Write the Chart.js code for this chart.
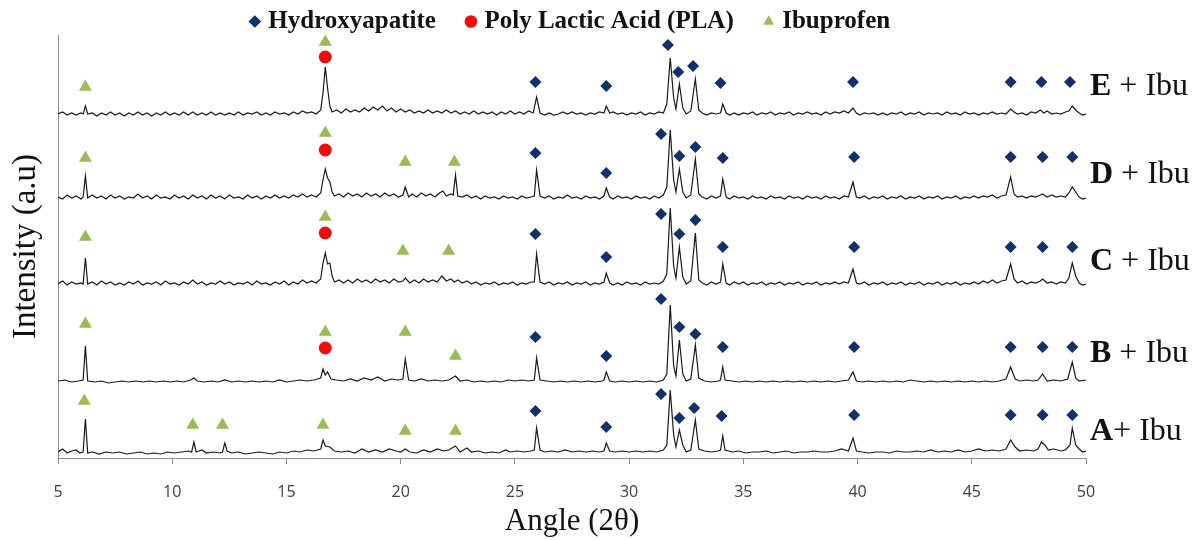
<!DOCTYPE html>
<html lang="en">
<head>
  <meta charset="UTF-8" />
  <title>XRD – Hydroxyapatite / PLA / Ibuprofen</title>
  <script src="https://cdn.jsdelivr.net/npm/chart.js"></script>
  <style>
    html, body { margin: 0; padding: 0; background: #fff; }
  </style>
</head>
<body>
  <canvas id="xrd" width="1200" height="540"></canvas>

  <script>
    // sample names and the text after them (A has no space before +)
    const samples = ['A', 'B', 'C', 'D', 'E'];
    const suffixes = ['+ Ibu', ' + Ibu', ' + Ibu', ' + Ibu', ' + Ibu'];
    const angleTicks = [5, 10, 15, 20, 25, 30, 35, 40, 45, 50];

    // diffractograms: [angle 2θ, intensity above own baseline]
    const traceA = [[5.0,3],[5.2,6],[5.4,2],[5.6,4],[5.8,5],[5.95,2],[6.1,3],[6.2,36],[6.3,2],[6.5,3],[6.8,1],[7.1,3],[7.4,2],[7.7,3],[8.0,1],[8.3,2],[8.6,3],[8.9,1],[9.2,2],[9.5,1],[9.8,3],[10.1,2],[10.4,3],[10.7,4],[10.85,3],[10.95,13],[11.05,3],[11.3,5],[11.5,2],[11.8,3],[12.1,2],[12.2,3],[12.3,12],[12.4,4],[12.6,2],[12.9,3],[13.2,1],[13.5,2],[13.8,3],[14.1,2],[14.4,1],[14.7,3],[15.0,2],[15.3,4],[15.6,3],[15.9,5],[16.2,4],[16.5,6],[16.6,15],[16.7,9],[16.9,8],[17.1,4],[17.4,3],[17.7,4],[18.0,2],[18.3,6],[18.6,3],[18.9,5],[19.2,3],[19.5,6],[19.8,4],[20.0,3],[20.2,6],[20.4,3],[20.7,2],[21.0,5],[21.3,3],[21.6,6],[21.9,4],[22.1,5],[22.4,9],[22.6,3],[22.9,7],[23.1,3],[23.4,4],[23.7,2],[24.0,3],[24.3,2],[24.6,5],[24.8,3],[25.1,4],[25.4,3],[25.7,4],[25.85,5],[25.95,27],[26.1,5],[26.3,3],[26.6,4],[26.9,3],[27.2,5],[27.5,3],[27.8,4],[28.1,3],[28.4,4],[28.7,3],[28.9,4],[29.0,12],[29.15,4],[29.4,3],[29.7,4],[30.0,3],[30.3,4],[30.6,3],[30.9,4],[31.2,3],[31.5,5],[31.65,10],[31.8,65],[31.95,20],[32.05,8],[32.2,25],[32.35,10],[32.5,3],[32.7,5],[32.9,35],[33.05,6],[33.3,4],[33.6,3],[33.9,4],[34.0,5],[34.1,19],[34.2,5],[34.5,3],[34.8,4],[35.1,2],[35.4,3],[35.7,3],[36.0,4],[36.3,2],[36.6,3],[36.9,4],[37.2,2],[37.5,3],[37.8,3],[38.1,4],[38.4,3],[38.7,3],[39.0,4],[39.3,6],[39.6,4],[39.8,17],[39.95,4],[40.2,3],[40.5,2],[40.8,3],[41.1,3],[41.4,2],[41.7,4],[42.0,3],[42.3,3],[42.6,4],[42.9,3],[43.2,5],[43.5,3],[43.8,4],[44.1,3],[44.4,5],[44.7,3],[45.0,4],[45.3,6],[45.6,4],[45.9,5],[46.2,4],[46.5,6],[46.7,15],[46.9,8],[47.1,4],[47.4,5],[47.7,4],[47.9,6],[48.05,13],[48.2,10],[48.35,5],[48.6,6],[48.9,4],[49.1,5],[49.3,10],[49.4,27],[49.55,10],[49.7,6],[49.85,3],[50.0,4]];
    const traceB = [[5.0,3],[5.3,4],[5.6,2],[5.9,3],[6.1,4],[6.2,38],[6.3,3],[6.6,2],[6.9,3],[7.2,1],[7.5,2],[7.8,3],[8.1,2],[8.4,3],[8.7,2],[9.0,3],[9.3,2],[9.6,3],[9.9,2],[10.2,3],[10.5,2],[10.8,4],[10.95,6],[11.1,3],[11.4,2],[11.7,3],[12.0,2],[12.3,4],[12.6,2],[12.9,3],[13.2,2],[13.5,3],[13.8,2],[14.1,3],[14.4,2],[14.7,4],[15.0,2],[15.3,3],[15.6,4],[15.9,3],[16.2,4],[16.5,6],[16.6,15],[16.7,9],[16.8,12],[16.95,5],[17.2,4],[17.5,3],[17.8,5],[18.1,3],[18.4,6],[18.7,4],[19.0,7],[19.3,3],[19.6,5],[19.9,4],[20.1,5],[20.2,25],[20.35,4],[20.6,3],[20.9,5],[21.2,3],[21.5,4],[21.8,3],[22.1,4],[22.4,8],[22.6,3],[22.9,4],[23.2,2],[23.5,3],[23.8,2],[24.1,3],[24.4,2],[24.7,4],[25.0,3],[25.3,4],[25.6,3],[25.85,4],[25.95,26],[26.1,4],[26.4,3],[26.7,2],[27.0,3],[27.3,2],[27.6,3],[27.9,2],[28.2,3],[28.5,2],[28.8,3],[28.9,4],[29.0,12],[29.15,3],[29.4,2],[29.7,3],[30.0,2],[30.3,3],[30.6,2],[30.9,3],[31.2,2],[31.5,4],[31.65,10],[31.8,79],[31.95,18],[32.05,8],[32.2,44],[32.35,10],[32.5,3],[32.7,5],[32.9,39],[33.05,6],[33.3,3],[33.6,2],[33.9,3],[34.0,4],[34.1,17],[34.2,4],[34.5,3],[34.8,2],[35.1,3],[35.4,2],[35.7,3],[36.0,2],[36.3,3],[36.6,2],[36.9,3],[37.2,2],[37.5,3],[37.8,2],[38.1,3],[38.4,2],[38.7,3],[39.0,2],[39.3,3],[39.6,4],[39.8,12],[39.95,3],[40.2,2],[40.5,3],[40.8,2],[41.1,3],[41.4,2],[41.7,3],[42.0,2],[42.3,4],[42.6,3],[42.9,2],[43.2,3],[43.5,2],[43.8,3],[44.1,2],[44.4,3],[44.7,2],[45.0,3],[45.3,2],[45.6,3],[45.9,2],[46.2,3],[46.5,5],[46.7,17],[46.9,5],[47.1,3],[47.4,4],[47.7,3],[47.9,4],[48.1,10],[48.3,3],[48.6,4],[48.9,3],[49.2,5],[49.4,22],[49.55,6],[49.7,3],[50.0,4]];
    const traceC = [[5.0,4],[5.2,7],[5.4,3],[5.6,6],[5.8,4],[6.0,5],[6.1,4],[6.2,30],[6.3,4],[6.5,6],[6.7,3],[6.9,7],[7.1,4],[7.3,6],[7.5,3],[7.7,5],[7.9,3],[8.1,6],[8.3,4],[8.5,7],[8.7,3],[8.9,5],[9.1,4],[9.3,6],[9.5,3],[9.7,7],[9.9,4],[10.1,5],[10.3,3],[10.5,6],[10.7,4],[10.9,8],[11.1,4],[11.3,6],[11.5,3],[11.7,5],[11.9,4],[12.1,7],[12.3,4],[12.5,6],[12.7,3],[12.9,5],[13.1,4],[13.3,6],[13.5,3],[13.7,7],[13.9,4],[14.1,5],[14.3,3],[14.5,6],[14.7,4],[14.9,7],[15.1,3],[15.3,6],[15.5,4],[15.7,8],[15.9,5],[16.1,7],[16.3,5],[16.5,9],[16.6,25],[16.7,35],[16.8,24],[16.9,25],[17.0,12],[17.1,6],[17.3,8],[17.5,5],[17.7,8],[17.9,5],[18.1,9],[18.3,6],[18.5,8],[18.7,5],[18.9,9],[19.1,6],[19.3,8],[19.5,5],[19.7,9],[19.9,6],[20.1,7],[20.2,10],[20.4,5],[20.6,8],[20.8,5],[21.0,9],[21.2,6],[21.4,8],[21.6,6],[21.8,12],[22.0,7],[22.2,9],[22.35,6],[22.5,8],[22.7,5],[22.9,7],[23.1,4],[23.3,6],[23.5,3],[23.7,5],[23.9,4],[24.1,6],[24.3,3],[24.5,5],[24.7,4],[24.9,6],[25.1,3],[25.3,5],[25.5,4],[25.7,6],[25.85,6],[25.95,34],[26.1,6],[26.3,4],[26.5,6],[26.7,3],[26.9,5],[27.1,4],[27.3,6],[27.5,3],[27.7,5],[27.9,4],[28.1,6],[28.3,3],[28.5,5],[28.7,4],[28.9,6],[29.0,15],[29.15,5],[29.3,3],[29.5,5],[29.7,3],[29.9,6],[30.1,4],[30.3,5],[30.5,3],[30.7,6],[30.9,4],[31.1,5],[31.3,4],[31.5,7],[31.65,14],[31.8,80],[31.95,22],[32.05,10],[32.2,41],[32.35,11],[32.5,4],[32.7,7],[32.9,55],[33.05,8],[33.2,5],[33.4,3],[33.6,6],[33.8,4],[34.0,6],[34.1,24],[34.25,5],[34.4,3],[34.6,6],[34.8,4],[35.0,6],[35.2,3],[35.4,5],[35.6,4],[35.8,6],[36.0,3],[36.2,5],[36.4,4],[36.6,6],[36.8,3],[37.0,5],[37.2,4],[37.4,6],[37.6,3],[37.8,5],[38.0,4],[38.2,6],[38.4,3],[38.6,5],[38.8,4],[39.0,6],[39.2,4],[39.4,6],[39.6,5],[39.8,19],[39.95,5],[40.1,4],[40.3,6],[40.5,3],[40.7,5],[40.9,4],[41.1,6],[41.3,3],[41.5,5],[41.7,4],[41.9,6],[42.1,3],[42.3,5],[42.5,4],[42.7,6],[42.9,3],[43.1,5],[43.3,4],[43.5,6],[43.7,3],[43.9,5],[44.1,4],[44.3,6],[44.5,3],[44.7,5],[44.9,4],[45.1,6],[45.3,4],[45.5,7],[45.7,5],[45.9,8],[46.1,5],[46.3,7],[46.5,8],[46.7,24],[46.85,9],[47.0,5],[47.2,7],[47.4,4],[47.6,6],[47.8,5],[48.0,7],[48.1,9],[48.3,5],[48.5,6],[48.7,4],[48.9,6],[49.1,5],[49.25,10],[49.4,25],[49.55,12],[49.7,5],[49.85,3],[50.0,4]];
    const traceD = [[5.0,5],[5.2,3],[5.4,7],[5.6,4],[5.8,6],[6.0,3],[6.1,5],[6.2,26],[6.3,4],[6.5,7],[6.7,4],[6.9,6],[7.1,3],[7.3,7],[7.5,4],[7.7,6],[7.9,3],[8.1,5],[8.3,4],[8.5,8],[8.7,4],[8.9,6],[9.1,3],[9.3,7],[9.5,4],[9.7,5],[9.9,3],[10.1,7],[10.3,4],[10.5,6],[10.7,3],[10.9,7],[11.1,4],[11.3,6],[11.5,3],[11.7,7],[11.9,4],[12.1,6],[12.3,3],[12.5,7],[12.7,4],[12.9,5],[13.1,3],[13.3,7],[13.5,4],[13.7,6],[13.9,3],[14.1,6],[14.3,4],[14.5,7],[14.7,4],[14.9,6],[15.1,4],[15.3,7],[15.5,5],[15.7,8],[15.9,5],[16.1,7],[16.3,5],[16.5,9],[16.6,22],[16.7,33],[16.8,24],[16.9,20],[17.0,10],[17.1,6],[17.3,8],[17.5,5],[17.7,9],[17.9,6],[18.1,8],[18.3,5],[18.5,9],[18.7,6],[18.9,8],[19.1,5],[19.3,9],[19.5,6],[19.7,8],[19.9,5],[20.1,7],[20.2,15],[20.35,5],[20.5,8],[20.7,5],[20.9,9],[21.1,6],[21.3,8],[21.5,5],[21.7,9],[21.85,11],[22.0,6],[22.2,8],[22.3,7],[22.4,27],[22.5,6],[22.7,5],[22.9,7],[23.1,4],[23.3,6],[23.5,3],[23.7,6],[23.9,4],[24.1,5],[24.3,3],[24.5,6],[24.7,4],[24.9,5],[25.1,3],[25.3,6],[25.5,4],[25.7,5],[25.85,6],[25.95,32],[26.1,6],[26.3,4],[26.5,6],[26.7,3],[26.9,5],[27.1,4],[27.3,7],[27.5,4],[27.7,5],[27.9,3],[28.1,6],[28.3,4],[28.5,5],[28.7,3],[28.9,6],[29.0,14],[29.15,5],[29.3,3],[29.5,6],[29.7,4],[29.9,5],[30.1,3],[30.3,6],[30.5,4],[30.7,5],[30.9,3],[31.1,6],[31.3,4],[31.5,7],[31.65,15],[31.8,72],[31.95,22],[32.05,10],[32.2,33],[32.35,10],[32.5,4],[32.7,7],[32.9,43],[33.05,8],[33.2,5],[33.4,3],[33.6,6],[33.8,4],[34.0,6],[34.1,23],[34.25,5],[34.4,3],[34.6,6],[34.8,4],[35.0,5],[35.2,3],[35.4,6],[35.6,4],[35.8,5],[36.0,3],[36.2,6],[36.4,4],[36.6,5],[36.8,3],[37.0,6],[37.2,4],[37.4,5],[37.6,3],[37.8,6],[38.0,4],[38.2,5],[38.4,3],[38.6,6],[38.8,4],[39.0,5],[39.2,3],[39.4,6],[39.6,5],[39.8,20],[39.95,5],[40.1,4],[40.3,6],[40.5,3],[40.7,5],[40.9,4],[41.1,6],[41.3,3],[41.5,5],[41.7,4],[41.9,6],[42.1,3],[42.3,5],[42.5,4],[42.7,6],[42.9,3],[43.1,5],[43.3,4],[43.5,6],[43.7,3],[43.9,5],[44.1,4],[44.3,6],[44.5,3],[44.7,5],[44.9,4],[45.1,6],[45.3,4],[45.5,6],[45.7,5],[45.9,7],[46.1,4],[46.3,6],[46.5,7],[46.7,25],[46.85,8],[47.0,5],[47.2,6],[47.4,4],[47.6,6],[47.8,5],[48.0,7],[48.1,8],[48.3,5],[48.5,7],[48.7,5],[48.9,6],[49.1,5],[49.25,9],[49.4,15],[49.55,10],[49.7,5],[49.85,3],[50.0,4]];
    const traceE = [[5.0,4],[5.2,6],[5.4,3],[5.6,5],[5.8,3],[6.0,5],[6.1,4],[6.2,12],[6.3,4],[6.5,5],[6.7,2],[6.9,5],[7.1,3],[7.3,6],[7.5,3],[7.7,5],[7.9,2],[8.1,5],[8.3,3],[8.5,6],[8.7,3],[8.9,5],[9.1,2],[9.3,5],[9.5,3],[9.7,6],[9.9,3],[10.1,5],[10.3,3],[10.5,6],[10.7,3],[10.9,6],[11.1,3],[11.3,5],[11.5,3],[11.7,6],[11.9,3],[12.1,5],[12.3,3],[12.5,5],[12.7,3],[12.9,6],[13.1,3],[13.3,5],[13.5,4],[13.7,6],[13.9,3],[14.1,5],[14.3,3],[14.5,6],[14.7,4],[14.9,5],[15.1,3],[15.3,6],[15.5,4],[15.7,7],[15.9,5],[16.1,6],[16.3,4],[16.5,8],[16.6,25],[16.7,51],[16.8,30],[16.9,12],[17.0,6],[17.2,8],[17.4,5],[17.6,9],[17.8,6],[18.0,8],[18.2,6],[18.4,10],[18.6,7],[18.8,11],[19.0,8],[19.2,12],[19.4,7],[19.6,10],[19.8,6],[20.0,9],[20.2,6],[20.4,8],[20.6,5],[20.8,7],[21.0,5],[21.2,8],[21.4,5],[21.6,7],[21.8,5],[22.0,8],[22.2,5],[22.4,7],[22.6,4],[22.8,6],[23.0,4],[23.2,7],[23.4,4],[23.6,6],[23.8,4],[24.0,6],[24.2,3],[24.4,6],[24.6,4],[24.8,7],[25.0,4],[25.2,6],[25.4,4],[25.6,7],[25.8,5],[25.95,21],[26.1,5],[26.3,3],[26.5,5],[26.7,3],[26.9,4],[27.1,6],[27.3,4],[27.5,6],[27.7,4],[27.9,5],[28.1,3],[28.3,5],[28.5,4],[28.7,6],[28.9,5],[29.0,12],[29.15,5],[29.3,6],[29.5,4],[29.7,5],[29.9,3],[30.1,5],[30.3,4],[30.5,6],[30.7,3],[30.9,5],[31.1,4],[31.3,6],[31.5,5],[31.65,14],[31.8,60],[31.95,20],[32.05,9],[32.2,34],[32.35,10],[32.5,4],[32.7,7],[32.9,39],[33.05,8],[33.2,5],[33.4,3],[33.6,5],[33.8,4],[34.0,5],[34.1,14],[34.25,5],[34.4,3],[34.6,5],[34.8,3],[35.0,5],[35.2,4],[35.4,6],[35.6,3],[35.8,5],[36.0,4],[36.2,6],[36.4,3],[36.6,5],[36.8,4],[37.0,6],[37.2,3],[37.4,5],[37.6,4],[37.8,6],[38.0,4],[38.2,5],[38.4,3],[38.6,6],[38.8,4],[39.0,6],[39.2,5],[39.4,7],[39.6,5],[39.8,10],[39.95,5],[40.1,3],[40.3,5],[40.5,4],[40.7,5],[40.9,3],[41.1,5],[41.3,3],[41.5,5],[41.7,4],[41.9,6],[42.1,3],[42.3,5],[42.5,4],[42.7,6],[42.9,3],[43.1,5],[43.3,4],[43.5,5],[43.7,3],[43.9,6],[44.1,4],[44.3,5],[44.5,3],[44.7,6],[44.9,4],[45.1,5],[45.3,3],[45.5,5],[45.7,4],[45.9,6],[46.1,4],[46.3,5],[46.5,4],[46.7,9],[46.85,6],[47.0,4],[47.2,5],[47.4,3],[47.6,6],[47.8,5],[48.0,8],[48.15,5],[48.3,7],[48.5,4],[48.7,5],[48.9,4],[49.1,6],[49.25,7],[49.4,12],[49.55,8],[49.7,5],[49.85,3],[50.0,4]];

    // phase markers: [angle, height above the pattern's baseline]
    const hapA = [[25.9,44],[29.0,28],[31.4,61],[32.2,37],[32.85,47],[34.05,39],[39.85,40],[46.7,40],[48.1,40],[49.4,40]];
    const hapB = [[25.9,47],[29.0,28],[31.4,85],[32.2,57],[32.9,50],[34.1,37],[39.85,37],[46.7,37],[48.1,37],[49.4,37]];
    const hapC = [[25.9,54],[29.0,31],[31.4,74],[32.2,54],[32.9,68],[34.1,41],[39.85,41],[46.7,41],[48.1,41],[49.4,41]];
    const hapD = [[25.9,49],[29.0,29],[31.4,68],[32.2,46],[32.9,55],[34.1,44],[39.85,45],[46.7,45],[48.1,45],[49.4,45]];
    const hapE = [[25.9,36],[29.0,32],[31.7,73],[32.15,46],[32.8,52],[34.0,35],[39.8,36],[46.7,36],[48.05,36],[49.3,36]];
    const plaA = [];
    const plaB = [[16.7,36]];
    const plaC = [[16.7,55]];
    const plaD = [[16.7,52]];
    const plaE = [[16.7,61]];
    const ibuA = [[6.15,54],[10.9,30],[12.2,30],[16.6,30],[20.2,24],[22.4,24]];
    const ibuB = [[6.2,60],[16.7,52],[20.2,52],[22.4,28]];
    const ibuC = [[6.2,51],[16.7,71],[20.1,37],[22.1,37]];
    const ibuD = [[6.2,44],[16.7,69],[20.2,40],[22.35,40]];
    const ibuE = [[6.2,31],[16.7,76]];

    // vertical stacking of the patterns (A bottom ... E top)
    const offsets = [3, 74, 170, 256, 340];

    const traces = [traceA, traceB, traceC, traceD, traceE];
    const stack = (groups) => groups.flatMap((pts, i) => pts.map(([x, h]) => ({ x, y: h + offsets[i] })));

    const markerSets = [
      { label: 'Hydroxyapatite', pts: [hapA, hapB, hapC, hapD, hapE], style: 'rectRot', color: '#13306a', r: 6 },
      { label: 'Poly Lactic Acid (PLA)', pts: [plaA, plaB, plaC, plaD, plaE], style: 'circle', color: '#f20d0d', r: 6.5 },
      { label: 'Ibuprofen', pts: [ibuA, ibuB, ibuC, ibuD, ibuE], style: 'triangle', color: '#9bbb59', r: 7.5 }
    ];

    const datasets = markerSets.map(m => ({
      label: m.label,
      data: stack(m.pts),
      showLine: false,
      pointStyle: m.style,
      pointRadius: m.r,
      pointBackgroundColor: m.color,
      pointBorderColor: m.color,
      pointBorderWidth: 0,
      backgroundColor: m.color,
      borderColor: m.color,
      clip: false
    }));

    traces.forEach((t, i) => {
      datasets.push({
        label: samples[i] + suffixes[i],
        data: t.map(([x, h]) => ({ x, y: h + offsets[i] })),
        showLine: true,
        borderColor: '#1a1a1a',
        borderWidth: 1.2,
        pointRadius: 0,
        tension: 0
      });
    });

    // "A + Ibu" ... labels on the right of each pattern
    const sideLabels = {
      id: 'sideLabels',
      afterDatasetsDraw(chart) {
        const { ctx, chartArea, scales: { y } } = chart;
        const lift = [23, 30, 26, 27, 31];
        ctx.save();
        ctx.fillStyle = '#111';
        ctx.textBaseline = 'middle';
        samples.forEach((s, i) => {
          const py = y.getPixelForValue(offsets[i] + lift[i]);
          let px = chartArea.right + 4;
          ctx.font = 'bold 32px "Liberation Serif"';
          ctx.fillText(s, px, py);
          px += ctx.measureText(s).width;
          ctx.font = '32px "Liberation Serif"';
          ctx.fillText(suffixes[i], px, py);
        });
        ctx.restore();
      }
    };

    new Chart(document.getElementById('xrd'), {
      type: 'scatter',
      data: { datasets },
      options: {
        responsive: false,
        animation: false,
        layout: { padding: { top: 0, right: 114, bottom: 0, left: 0 } },
        plugins: {
          tooltip: { enabled: false },
          legend: {
            position: 'top',
            fullSize: false,
            maxHeight: 35,
            labels: {
              usePointStyle: true,
              boxWidth: 2,
              boxHeight: 9,
              padding: 9,
              color: '#111',
              font: { family: 'Liberation Serif', size: 25, weight: 'bold' },
              filter: (item) => item.datasetIndex < markerSets.length,
              generateLabels(chart) {
                const items = Chart.defaults.plugins.legend.labels.generateLabels(chart);
                return items.map((it, k) => ({ ...it, text: k < 2 ? it.text + '    ' : it.text, lineWidth: 0 }));
              }
            }
          }
        },
        scales: {
          x: {
            type: 'linear',
            min: 5,
            max: 50,
            afterBuildTicks: (s) => { s.ticks = angleTicks.map(v => ({ value: v })); },
            afterFit: (s) => { s.height = 82; },
            ticks: { color: '#404040', font: { family: 'Open Sans', size: 16 }, padding: 19 },
            grid: { display: true, drawOnChartArea: false, drawTicks: true, tickLength: 6, color: '#8c8c8c' },
            border: { display: true, color: '#8c8c8c', width: 1 },
            title: { display: true, text: 'Angle (2θ)', color: '#111', font: { family: 'Liberation Serif', size: 31 }, padding: { top: 0, bottom: 0 } }
          },
          y: {
            min: 0,
            max: 423,
            afterFit: (s) => { s.width = 58; },
            ticks: { display: false },
            grid: { display: false },
            border: { display: true, color: '#8c8c8c', width: 1 },
            title: { display: true, text: 'Intensity (a.u)', color: '#111', font: { family: 'Liberation Serif', size: 33 }, padding: { top: 7, bottom: 0 } }
          }
        }
      },
      plugins: [sideLabels]
    });
  </script>
</body>
</html>
